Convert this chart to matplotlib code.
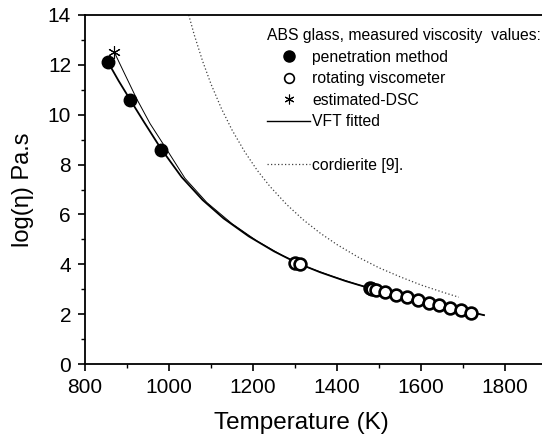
import matplotlib
matplotlib.use("Agg")
import matplotlib.pyplot as plt
from matplotlib.lines import Line2D

plt.rcParams["font.family"] = ["Liberation Sans", "DejaVu Sans"]

# ---------------------------------------------------------------------------
# Data
# ---------------------------------------------------------------------------
# penetration method (filled circles)
pen_T = [855, 908, 980]
pen_logeta = [12.1, 10.6, 8.58]

# rotating viscometer (open circles)
rot_T = [1300, 1312, 1478, 1484, 1492, 1515, 1540, 1566, 1592, 1618, 1644, 1670, 1695, 1718]
rot_logeta = [4.05, 4.0, 3.05, 3.02, 2.98, 2.88, 2.78, 2.67, 2.56, 2.46, 2.36, 2.26, 2.15, 2.05]

# estimated from DSC (asterisk)
dsc_T = [870]
dsc_logeta = [12.5]

# VFT fit through the penetration points
vft_T = [855, 880, 909, 940, 980, 1030, 1080, 1130, 1190, 1250, 1304, 1360,
         1420, 1480, 1550, 1620, 1690, 1750]
vft_logeta = [12.10, 11.36, 10.56, 9.72, 8.66, 7.50, 6.58, 5.84, 5.12, 4.52,
              4.06, 3.68, 3.33, 3.03, 2.72, 2.45, 2.19, 1.96]

# VFT fit starting at the DSC point
vft2_T = [870, 895, 923, 955, 994, 1038, 1090, 1150, 1210, 1270, 1330, 1390,
          1450, 1520, 1600, 1680, 1750]
vft2_logeta = [12.50, 11.62, 10.64, 9.64, 8.62, 7.45, 6.48, 5.63, 4.93, 4.35,
               3.88, 3.51, 3.18, 2.85, 2.53, 2.23, 1.96]

# cordierite reference curve [9]
cord_T = [1047, 1060, 1080, 1100, 1125, 1150, 1180, 1210, 1240, 1280, 1320,
          1360, 1400, 1450, 1500, 1550, 1600, 1650, 1690]
cord_logeta = [14.0, 13.21, 12.15, 11.23, 10.24, 9.39, 8.52, 7.77, 7.13, 6.40,
               5.78, 5.25, 4.79, 4.29, 3.86, 3.50, 3.17, 2.89, 2.68]

W, H = 542, 441
fig = plt.figure(figsize=(W / 100, H / 100), dpi=100)
# axes run 800..1900 K; the right edge falls just outside the image
ax = fig.add_axes([85 / W, (H - 364) / H, 462 / W, 349 / H])

ax.plot(cord_T, cord_logeta, color="0.25", linestyle=(0, (1, 1.8)), linewidth=0.9)
ax.plot(vft2_T, vft2_logeta, color="black", linewidth=0.7)
ax.plot(vft_T, vft_logeta, color="black", linewidth=1.3)
ax.plot(pen_T, pen_logeta, "o", color="black", markersize=9, zorder=5)
ax.plot(rot_T, rot_logeta, "o", markerfacecolor="white", markeredgecolor="black",
        markeredgewidth=1.9, markersize=8.5, zorder=5)
ax.plot(dsc_T, dsc_logeta, marker=(6, 2, 0), color="black", linestyle="none",
        markersize=9, markeredgewidth=0.8, zorder=6)

ax.set_xlim(800, 1900)
ax.set_ylim(0, 14)
ax.set_xticks(range(800, 1901, 200))
ax.set_xticks(range(900, 1901, 200), minor=True)
ax.set_yticks(range(0, 15, 2))
ax.set_yticks(range(1, 14, 2), minor=True)
ax.tick_params(which="major", direction="out", length=5, width=1.2,
               labelsize=15, pad=5)
ax.tick_params(which="minor", direction="out", length=3, width=1.0)
for sp in ax.spines.values():
    sp.set_linewidth(1.3)

ax.set_xlabel("Temperature (K)", fontsize=17.5)
ax.xaxis.set_label_coords(0.4675, -0.137)
ax.set_ylabel("log(η) Pa.s", fontsize=17)
ax.yaxis.set_label_coords(-0.11, 0.5)

handles = [
    Line2D([], [], marker="o", color="black", linestyle="none", markersize=8),
    Line2D([], [], marker="o", markerfacecolor="white", markeredgecolor="black",
           markeredgewidth=1.2, linestyle="none", markersize=7),
    Line2D([], [], marker=(6, 2, 0), color="black", linestyle="none",
           markersize=7, markeredgewidth=0.8),
    Line2D([], [], color="black", linewidth=1.0),
    Line2D([], [], color="none"),
    Line2D([], [], color="0.25", linestyle=(0, (1, 1.8)), linewidth=0.9),
]
labels = ["penetration method", "rotating viscometer", "estimated-DSC",
          "VFT fitted", " ", "cordierite [9]."]
fig.legend(handles, labels, title="ABS glass, measured viscosity  values:",
           loc="upper left", bbox_to_anchor=(267 / W, (H - 28) / H),
           frameon=False, fontsize=11.3, title_fontsize=11.3, alignment="left",
           handlelength=2.75, handletextpad=0.12, labelspacing=0.42,
           borderpad=0, borderaxespad=0)

fig.savefig("out.png", dpi=100)
